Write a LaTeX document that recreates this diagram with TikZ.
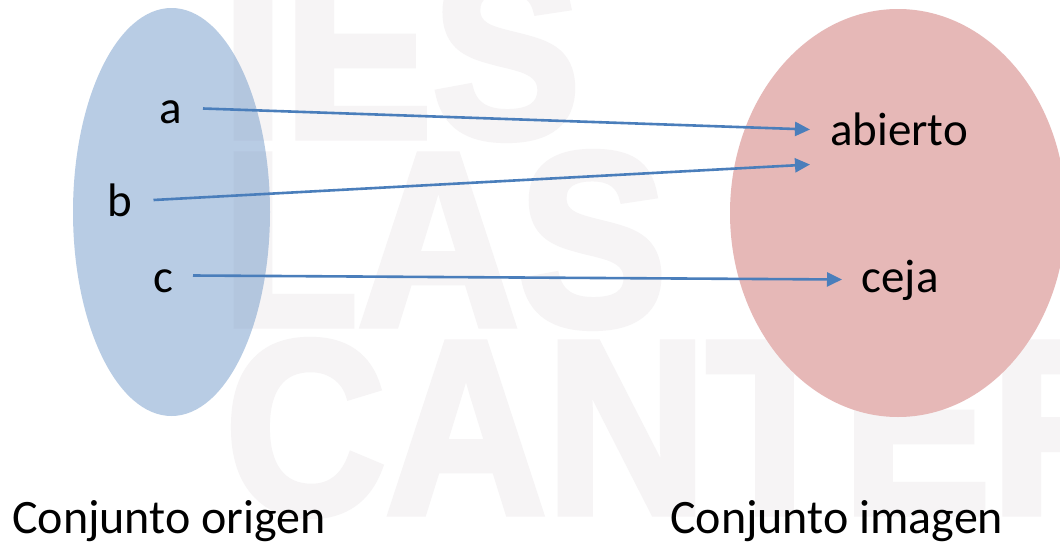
\documentclass[tikz,border=0pt]{standalone}
\usepackage{fontspec}
\setmainfont{Carlito}
\newfontfamily\wmfont{Liberation Sans}[UprightFont={* Bold}, FakeBold=3]
\usetikzlibrary{arrows.meta}
\definecolor{arrowblue}{RGB}{74,126,187}
\definecolor{setblue}{RGB}{79,129,189}
\definecolor{setpink}{RGB}{230,184,183}
\definecolor{wmgray}{RGB}{246,244,245}
\tikzset{
  lbl/.style={anchor=base, inner sep=0pt, font=\fontsize{47}{52}\selectfont},
  title/.style={anchor=base west, inner sep=0pt, font=\fontsize{48}{52}\selectfont},
  wm/.style={anchor=base west, inner sep=0pt, text=wmgray, xscale=0.9, font=\wmfont\bfseries\fontsize{247}{260}\selectfont},
  link/.style={draw=arrowblue, line width=2.6pt, -{Triangle[length=15pt,width=14pt]}},
}
\begin{document}
\begin{tikzpicture}[x=1pt,y=-1pt]
\clip (0,0) rectangle (1060,541);
\fill[white] (0,0) rectangle (1060,541);
% watermark
\node[wm] (w1) at (222,137) {IES};
\node[wm] (w2) at (222,325) {LAS};
\node[wm] (w3) at (225,513) {CANTERAS};
% sets
\fill[setblue, fill opacity=0.4] (171.5,212) ellipse [x radius=98.5, y radius=204];
\fill[setpink] (898,213) ellipse [x radius=168, y radius=204];
% labels
\node[lbl] (a) at (171,123) {a};
\node[lbl] (b) at (120,216) {b};
\node[lbl] (c) at (163,292) {c};
\node[lbl] (abierto) at (899,145) {abierto};
\node[lbl] (ceja) at (900,292) {ceja};
\node[title] (orig) at (12,533) {Conjunto origen};
\node[title] (imag) at (670,533) {Conjunto imagen};
% connector ends
\coordinate (as) at (203,108.5);
\coordinate (ae) at (810,129.5);
\coordinate (bs) at (153.5,200);
\coordinate (be) at (810,164.5);
\coordinate (cs) at (193,275.5);
\coordinate (ce) at (842,279.5);
\draw[link] (as) -- (ae);
\draw[link] (bs) -- (be);
\draw[link] (cs) -- (ce);
\end{tikzpicture}
\end{document}
